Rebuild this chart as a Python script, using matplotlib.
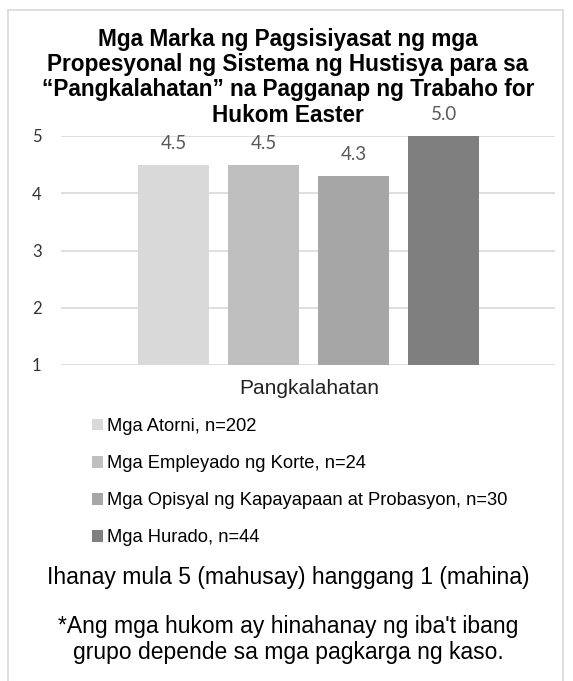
import matplotlib
matplotlib.use("Agg")
import matplotlib.pyplot as plt
from matplotlib.lines import Line2D

categories = ["Pangkalahatan"]
series_names = ["Mga Atorni, n=202", "Mga Empleyado ng Korte, n=24",
                "Mga Opisyal ng Kapayapaan at Probasyon, n=30", "Mga Hurado, n=44"]
series_values = [4.5, 4.5, 4.3, 5.0]
series_colors = ["#D9D9D9", "#BFBFBF", "#A6A6A6", "#7F7F7F"]
yticks = [1, 2, 3, 4, 5]
title_lines = ["Mga Marka ng Pagsisiyasat ng mga",
               "Propesyonal ng Sistema ng Hustisya para sa",
               "\u201cPangkalahatan\u201d na Pagganap ng Trabaho for",
               "Hukom Easter"]
note1 = "Ihanay mula 5 (mahusay) hanggang 1 (mahina)"
note2 = "*Ang mga hukom ay hinahanay ng iba't ibang\ngrupo depende sa mga pagkarga ng kaso."

plt.rcParams['font.family'] = ['Liberation Sans', 'DejaVu Sans']

W, H = 573, 681
fig = plt.figure(figsize=(W / 100, H / 100), dpi=100)

# outer border
bc = "#D9D9D9"
fig.add_artist(Line2D([8 / W, 8 / W], [0, 1 - 10 / H], color=bc, lw=1.2, transform=fig.transFigure))
fig.add_artist(Line2D([563 / W, 563 / W], [0, 1 - 10 / H], color=bc, lw=1.2, transform=fig.transFigure))
fig.add_artist(Line2D([8 / W, 563 / W], [1 - 10 / H, 1 - 10 / H], color=bc, lw=1.2, transform=fig.transFigure))

ax = fig.add_axes([61 / W, 1 - 365 / H, (555 - 61) / W, (365 - 136) / H])
step = 90 / 494
width = 71 / 494
n = len(series_values)
bars = []
for i, (name, v, c) in enumerate(zip(series_names, series_values, series_colors)):
    x = (i - (n - 1) / 2) * step
    b = ax.bar([x], [v - 1], bottom=1, width=width, color=c, label=name, zorder=3)
    bars.append(b)
    ax.annotate(f"{v:.1f}", xy=(x, v), xytext=(0, 15.3), textcoords="offset points",
                ha="center", va="center", fontsize=13.5, color="#595959",
                family=["Lato", "DejaVu Sans"], annotation_clip=False)

d = -0.002
ax.set_xlim(-0.5 + d, 0.5 + d)
ax.set_ylim(1, 5)
ax.set_yticks(yticks)
ax.set_yticklabels([str(t) for t in yticks], fontsize=12, color="#333333", family=["Lato", "DejaVu Sans"])
ax.set_xticks([0])
ax.set_xticklabels(categories, fontsize=15, color="#222222")
ax.tick_params(axis="both", length=0)
ax.tick_params(axis="y", pad=14)
ax.tick_params(axis="x", pad=10)
for s in ax.spines.values():
    s.set_visible(False)
ax.grid(axis="y", color="#D9D9D9", lw=1.2, zorder=0)
ax.set_axisbelow(True)

for line, base in zip(title_lines, [46, 71, 96, 122]):
    fig.text(288 / W, 1 - base / H, line, ha="center", va="baseline", fontsize=16.3,
             fontweight="bold", color="black")

fig.legend(handles=[b for b in bars], labels=series_names, loc="upper left",
           bbox_to_anchor=(92 / W, 1 - 418 / H), frameon=False, fontsize=13.2,
           handlelength=0.6, handleheight=0.6, handletextpad=0.22, labelspacing=1.1,
           borderpad=0, borderaxespad=0)

fig.text(288 / W, 1 - 577.5 / H, note1, ha="center", va="center", fontsize=16.5, color="black")
fig.text(288 / W, 1 - 639.5 / H, note2, ha="center", va="center", fontsize=16.5, color="black",
         linespacing=1.12)

fig.savefig("out.png", dpi=100)
